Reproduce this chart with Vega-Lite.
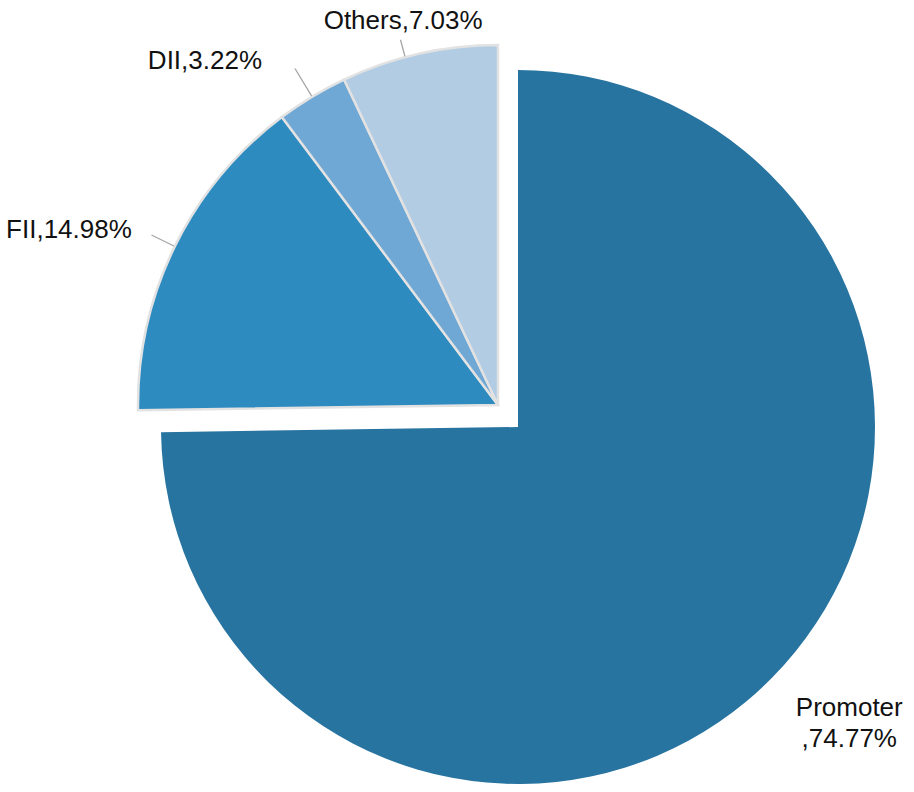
{
  "$schema": "https://vega.github.io/schema/vega-lite/v6.json",
  "width": 914,
  "height": 792,
  "padding": 0,
  "autosize": {"type": "fit", "contains": "padding"},
  "background": "white",
  "config": {"view": {"stroke": null}},
  "data": {
    "values": [
      {"category": "Promoter", "value": 74.77, "order": 1, "label": "Promoter\n,74.77%"},
      {"category": "FII", "value": 14.98, "order": 2, "label": "FII,14.98%"},
      {"category": "DII", "value": 3.22, "order": 3, "label": "DII,3.22%"},
      {"category": "Others", "value": 7.03, "order": 4, "label": "Others,7.03%"}
    ]
  },
  "transform": [
    {"stack": "value", "sort": [{"field": "order", "order": "ascending"}], "groupby": [], "as": ["s0", "s1"]},
    {"calculate": "(datum.s0 + datum.s1) / 2", "as": "mid"}
  ],
  "layer": [
    {
      "transform": [{"filter": "datum.category === 'Promoter'"}],
      "mark": {"type": "arc", "radius": 357, "xOffset": 61, "yOffset": 31},
      "encoding": {
        "theta": {"field": "s0", "type": "quantitative", "scale": {"domain": [0, 100]}},
        "theta2": {"field": "s1"},
        "color": {"field": "category", "type": "nominal", "legend": null,
          "scale": {"domain": ["Promoter", "FII", "DII", "Others"], "range": ["#2874A0", "#2E8BC0", "#6FA8D5", "#B2CCE4"]}}
      }
    },
    {
      "transform": [{"filter": "datum.category !== 'Promoter'"}],
      "mark": {"type": "arc", "radius": 360, "xOffset": 41, "yOffset": 9, "stroke": "#e2e2e2", "strokeWidth": 2.5},
      "encoding": {
        "theta": {"field": "s0", "type": "quantitative", "scale": {"domain": [0, 100]}},
        "theta2": {"field": "s1"},
        "color": {"field": "category", "type": "nominal", "legend": null,
          "scale": {"domain": ["Promoter", "FII", "DII", "Others"], "range": ["#2874A0", "#2E8BC0", "#6FA8D5", "#B2CCE4"]}}
      }
    },
    {
      "transform": [{"filter": "datum.category === 'FII'"}],
      "mark": {"type": "arc", "radius": 386, "radius2": 361, "xOffset": 41, "yOffset": 9, "filled": false, "stroke": "#a6a6a6", "strokeWidth": 1.3},
      "encoding": {
        "theta": {"field": "mid", "type": "quantitative", "stack": null, "scale": {"domain": [0, 100]}},
        "theta2": {"field": "mid"}
      }
    },
    {
      "transform": [{"filter": "datum.category === 'DII'"}],
      "mark": {"type": "arc", "radius": 393, "radius2": 361, "xOffset": 41, "yOffset": 9, "filled": false, "stroke": "#a6a6a6", "strokeWidth": 1.3},
      "encoding": {
        "theta": {"field": "mid", "type": "quantitative", "stack": null, "scale": {"domain": [0, 100]}},
        "theta2": {"field": "mid"}
      }
    },
    {
      "transform": [{"filter": "datum.category === 'Others'"}],
      "mark": {"type": "arc", "radius": 378, "radius2": 361, "xOffset": 41, "yOffset": 9, "thetaOffset": -0.04, "theta2Offset": -0.04, "filled": false, "stroke": "#a6a6a6", "strokeWidth": 1.3},
      "encoding": {
        "theta": {"field": "mid", "type": "quantitative", "stack": null, "scale": {"domain": [0, 100]}},
        "theta2": {"field": "mid"}
      }
    },
    {
      "transform": [{"filter": "datum.category === 'Promoter'"}],
      "mark": {"type": "text", "radius": 357, "xOffset": 61, "yOffset": 31, "dx": 77, "dy": 38, "align": "center", "baseline": "alphabetic", "lineBreak": "\n", "lineHeight": 31, "font": "Liberation Sans", "fontSize": 26, "color": "#111111"},
      "encoding": {
        "theta": {"field": "mid", "type": "quantitative", "stack": null, "scale": {"domain": [0, 100]}},
        "text": {"field": "label"}
      }
    },
    {
      "transform": [{"filter": "datum.category === 'FII'"}],
      "mark": {"type": "text", "radius": 360, "xOffset": 41, "yOffset": 9, "dx": -43, "dy": -8, "align": "right", "baseline": "alphabetic", "font": "Liberation Sans", "fontSize": 26, "color": "#111111"},
      "encoding": {
        "theta": {"field": "mid", "type": "quantitative", "stack": null, "scale": {"domain": [0, 100]}},
        "text": {"field": "label"}
      }
    },
    {
      "transform": [{"filter": "datum.category === 'DII'"}],
      "mark": {"type": "text", "radius": 360, "xOffset": 41, "yOffset": 9, "dx": -50, "dy": -28, "align": "right", "baseline": "alphabetic", "font": "Liberation Sans", "fontSize": 26, "color": "#111111"},
      "encoding": {
        "theta": {"field": "mid", "type": "quantitative", "stack": null, "scale": {"domain": [0, 100]}},
        "text": {"field": "label"}
      }
    },
    {
      "transform": [{"filter": "datum.category === 'Others'"}],
      "mark": {"type": "text", "radius": 360, "xOffset": 41, "yOffset": 9, "dx": -16, "dy": -25, "align": "center", "baseline": "alphabetic", "font": "Liberation Sans", "fontSize": 26, "color": "#111111"},
      "encoding": {
        "theta": {"field": "mid", "type": "quantitative", "stack": null, "scale": {"domain": [0, 100]}},
        "text": {"field": "label"}
      }
    }
  ]
}
